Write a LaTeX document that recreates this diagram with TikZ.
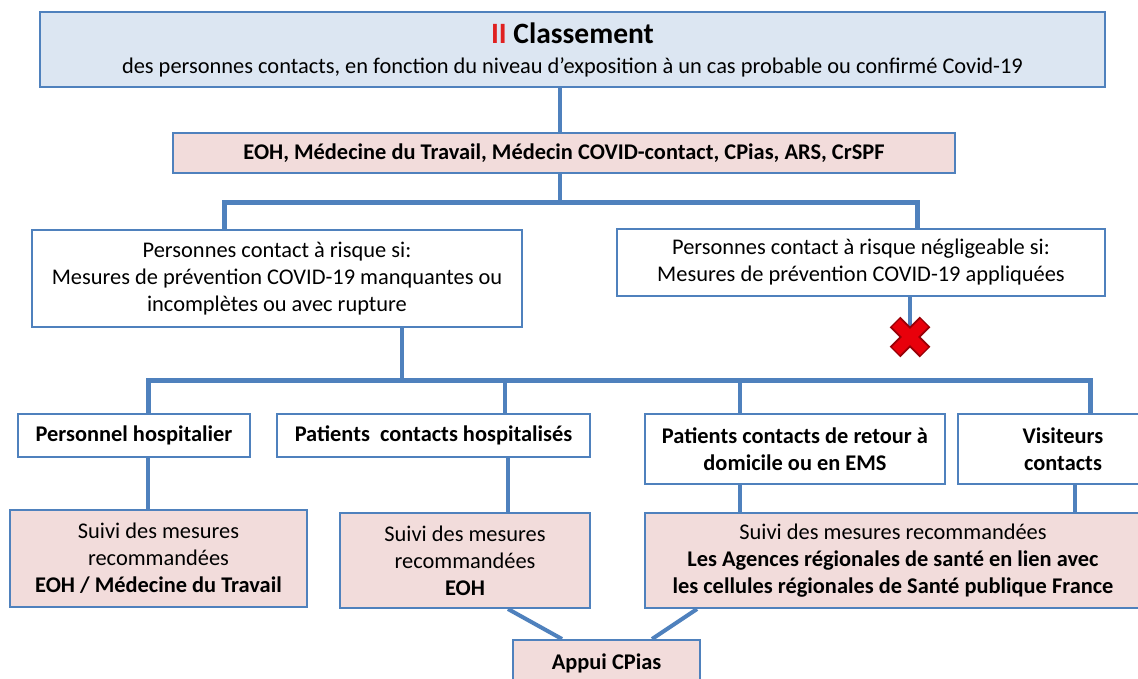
\documentclass[tikz,border=0pt]{standalone}
\usepackage{fontspec}
\setmainfont{Carlito}
\definecolor{lineblue}{HTML}{4F81BD}
\definecolor{boxblue}{HTML}{DCE6F2}
\definecolor{boxpink}{HTML}{F2DCDB}
\definecolor{xred}{HTML}{E8000B}
\definecolor{titlered}{HTML}{E02020}
\begin{document}
\begin{tikzpicture}[x=1pt,y=-1pt,
  box/.style={draw=lineblue, line width=2pt, fill=white, inner sep=0pt, align=center,
              font=\fontsize{22.4}{27}\selectfont},
  bluebox/.style={box, fill=boxblue},
  pinkbox/.style={box, fill=boxpink},
  boldbox/.style={box, font=\fontsize{22.4}{27}\selectfont\bfseries},
  conn/.style={draw=lineblue, line width=4pt},
  bus/.style={draw=lineblue, line width=5pt}]
\useasboundingbox (0,0) rectangle (1138,678);
\clip (0,0) rectangle (1138,678);

% column coordinates
\coordinate (xa) at (560,0);
\coordinate (xl) at (224,0);
\coordinate (xr) at (917,0);
\coordinate (yb1) at (0,202);
\coordinate (xx) at (910,0);
\coordinate (xm) at (402,0);
\coordinate (yb2) at (0,380);
\coordinate (c1) at (148,0);
\coordinate (c2) at (505,0);
\coordinate (c2b) at (508,0);
\coordinate (c3) at (740,0);
\coordinate (c4) at (1090,0);
\coordinate (c4b) at (1075,0);
\coordinate (d1) at (508,0);
\coordinate (d2) at (562,0);
\coordinate (d3) at (697,0);
\coordinate (d4) at (652,0);

% boxes
\node[bluebox, minimum width=1065pt, minimum height=75pt] (top) at (572.5,49.5)
  {{\bfseries\fontsize{29.5}{33}\selectfont\textcolor{titlered}{II} Classement}\\[3pt]
   des personnes contacts, en fonction du niveau d'exposition à un cas probable ou confirmé Covid-19};
\node[pinkbox, minimum width=782pt, minimum height=40pt, font=\fontsize{22.4}{27}\selectfont\bfseries] (eoh) at (564,153)
  {EOH, Médecine du Travail, Médecin COVID-contact, CPias, ARS, CrSPF};
\node[box, minimum width=490pt, minimum height=97pt] (left) at (277,278.5)
  {Personnes contact à risque si:\\Mesures de prévention COVID-19 manquantes ou\\incomplètes ou avec rupture};
\node[box, minimum width=488pt, minimum height=67pt] (right) at (861,262.5)
  {Personnes contact à risque négligeable si:\\Mesures de prévention COVID-19 appliquées};

\node[boldbox, minimum width=232pt, minimum height=43pt] (b1) at (134,435.5)
  {Personnel hospitalier};
\node[boldbox, minimum width=313pt, minimum height=43pt] (b2) at (433.5,435.5)
  {Patients\ \ contacts hospitalisés};
\node[boldbox, minimum width=300pt, minimum height=70pt] (b3) at (795,449)
  {Patients contacts de retour à\\domicile ou en EMS};
\node[boldbox, minimum width=210pt, minimum height=70pt] (b4) at (1063,449)
  {Visiteurs\\contacts};

\node[pinkbox, minimum width=297pt, minimum height=97pt] (b5) at (158.5,558.5)
  {Suivi des mesures\\recommandées\\\textbf{EOH / Médecine du Travail}};
\node[pinkbox, minimum width=250pt, minimum height=95pt] (b6) at (465,560.5)
  {Suivi des mesures\\recommandées\\\textbf{EOH}};
\node[pinkbox, minimum width=496pt, minimum height=95pt] (b7) at (893,560.5)
  {Suivi des mesures recommandées\\\textbf{Les Agences régionales de santé en lien avec}\\\textbf{les cellules régionales de Santé publique France}};
\node[pinkbox, boldbox, fill=boxpink, minimum width=187pt, minimum height=46pt] (appui) at (606.5,663)
  {Appui CPias};

% connectors
\draw[conn] (top.south -| xa) -- (eoh.north -| xa);
\draw[conn] (eoh.south -| xa) -- (xa |- yb1);
\draw[bus] (left.north -| xl) |- (xa |- yb1) -| (right.north -| xr);

\coordinate (cross) at (910,337);
\draw[conn] (right.south -| xx) -- (cross);

\draw[conn] (left.south -| xm) -- (xm |- yb2);
\draw[bus] (b1.north -| c1) |- (xm |- yb2) -| (b4.north -| c4);
\draw[conn] (c2 |- yb2) -- (b2.north -| c2);
\draw[conn] (c3 |- yb2) -- (b3.north -| c3);

\draw[conn] (b1.south -| c1) -- (b5.north -| c1);
\draw[conn] (b2.south -| c2b) -- (b6.north -| c2b);
\draw[conn] (b3.south -| c3) -- (b7.north -| c3);
\draw[conn] (b4.south -| c4b) -- (b7.north -| c4b);

\draw[conn] (b6.south -| d1) -- (appui.north -| d2);
\draw[conn] (b7.south -| d3) -- (appui.north -| d4);

% red cross
\begin{scope}[shift={(cross)}]
  \draw[line width=15pt, xred!65!black] (-15,-15) -- (15,15) (-15,15) -- (15,-15);
  \draw[line width=11pt, xred] (-14,-14) -- (14,14) (-14,14) -- (14,-14);
\end{scope}
\end{tikzpicture}
\end{document}
